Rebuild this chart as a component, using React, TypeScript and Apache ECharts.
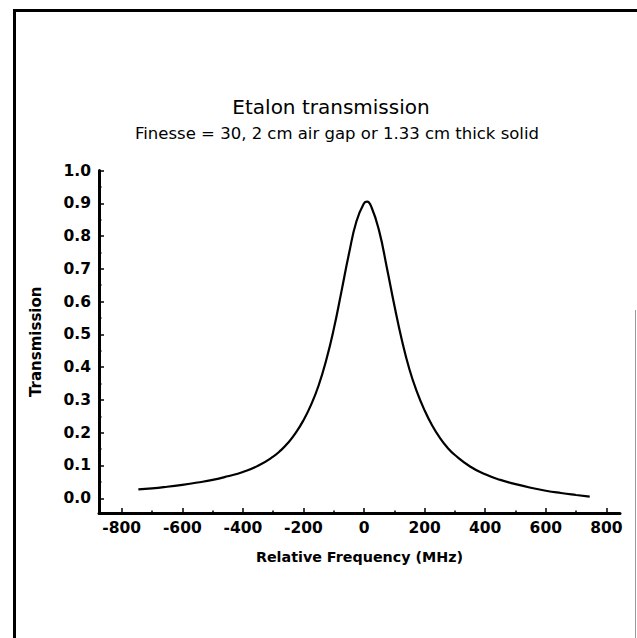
import React, { useEffect, useRef } from 'react';
import * as echarts from 'echarts';

// Relative frequency (MHz) and transmission
const frequency = [-745, -700, -650, -600, -550, -500, -450, -400, -350, -300, -275, -250, -225, -200, -175, -150, -125, -100, -75, -50, -25, 0, 10, 25, 50, 75, 100, 125, 150, 175, 200, 225, 250, 275, 300, 350, 400, 450, 500, 550, 600, 650, 700, 745];
const transmission = [0.027, 0.03, 0.035, 0.041, 0.048, 0.056, 0.067, 0.08, 0.099, 0.127, 0.146, 0.17, 0.2, 0.238, 0.285, 0.344, 0.421, 0.516, 0.629, 0.745, 0.845, 0.9, 0.905, 0.887, 0.815, 0.705, 0.589, 0.482, 0.393, 0.324, 0.268, 0.222, 0.185, 0.155, 0.132, 0.097, 0.073, 0.056, 0.043, 0.032, 0.023, 0.016, 0.01, 0.005];

const xMajorTicks = [-800, -600, -400, -200, 0, 200, 400, 600, 800];
const xMinorTicks = [-700, -500, -300, -100, 100, 300, 500, 700];
const yMajorTicks = [0, 0.1, 0.2, 0.3, 0.4, 0.5, 0.6, 0.7, 0.8, 0.9, 1.0];
const yMinorTicks = [0.05, 0.15, 0.25, 0.35, 0.45, 0.55, 0.65, 0.75, 0.85, 0.95];

const titleText = 'Etalon transmission';
const subtitleText = 'Finesse = 30, 2 cm air gap or 1.33 cm thick solid';
const xAxisName = 'Relative Frequency (MHz)';
const yAxisName = 'Transmission';

const FONT = 'DejaVu Sans';

export default function App() {
  const ref = useRef<HTMLDivElement>(null);
  useEffect(() => {
    if (!ref.current) return;
    const chart = echarts.init(ref.current, undefined, { renderer: 'svg' });
    const X_MIN = -875;
    const X_MAX = 845;
    const Y_MIN = -0.045;
    const Y_MAX = 1.0;
    const labelStyle = { color: '#000', fontFamily: FONT, fontSize: 15.5, fontWeight: 'bold' as const };
    chart.setOption({
      animation: false,
      backgroundColor: '#fff',
      grid: { left: 99, top: 170.5, width: 521, height: 342.5, outerBoundsMode: 'none' },
      graphic: [
        { type: 'line', shape: { x1: 13, y1: 10.5, x2: 637, y2: 10.5 }, style: { stroke: '#000', lineWidth: 3 } },
        { type: 'line', shape: { x1: 14.5, y1: 9, x2: 14.5, y2: 638 }, style: { stroke: '#000', lineWidth: 3 } },
        { type: 'line', shape: { x1: 635.5, y1: 310, x2: 635.5, y2: 638 }, style: { stroke: '#9a9a9a', lineWidth: 1 } },
        {
          type: 'text', x: 331, y: 97,
          style: { text: titleText, align: 'center', verticalAlign: 'top', fill: '#000', fontFamily: FONT, fontSize: 20, fontWeight: 'normal' },
        },
        {
          type: 'text', x: 337, y: 125,
          style: { text: subtitleText, align: 'center', verticalAlign: 'top', fill: '#000', fontFamily: FONT, fontSize: 16.5, fontWeight: 'normal' },
        },
      ],
      xAxis: [
        {
          type: 'value', min: X_MIN, max: X_MAX, position: 'bottom',
          name: xAxisName, nameLocation: 'middle', nameGap: 37,
          nameTextStyle: { color: '#000', fontFamily: FONT, fontSize: 14.3, fontWeight: 'bold' },
          axisLine: { show: true, onZero: false, lineStyle: { color: '#000', width: 3 } },
          axisTick: { show: true, inside: true, length: 5, customValues: xMajorTicks, lineStyle: { color: '#000', width: 1.5 } },
          axisLabel: { show: true, margin: 7, customValues: xMajorTicks, formatter: (v: number) => String(v), ...labelStyle },
          splitLine: { show: false },
        },
        {
          type: 'value', min: X_MIN, max: X_MAX, position: 'bottom',
          axisLine: { show: false, onZero: false },
          axisTick: { show: true, inside: true, length: 2.5, customValues: xMinorTicks, lineStyle: { color: '#000', width: 1.5 } },
          axisLabel: { show: false },
          splitLine: { show: false },
        },
      ],
      yAxis: [
        {
          type: 'value', min: Y_MIN, max: Y_MAX, position: 'left',
          name: yAxisName, nameLocation: 'middle', nameGap: 56,
          nameTextStyle: { color: '#000', fontFamily: FONT, fontSize: 15, fontWeight: 'bold' },
          axisLine: { show: true, onZero: false, lineStyle: { color: '#000', width: 3 } },
          axisTick: { show: true, inside: true, length: 5, customValues: yMajorTicks, lineStyle: { color: '#000', width: 1.5 } },
          axisLabel: { show: true, margin: 8, customValues: yMajorTicks, formatter: (v: number) => v.toFixed(1), ...labelStyle },
          splitLine: { show: false },
        },
        {
          type: 'value', min: Y_MIN, max: Y_MAX, position: 'left',
          axisLine: { show: false, onZero: false },
          axisTick: { show: true, inside: true, length: 2.5, customValues: yMinorTicks, lineStyle: { color: '#000', width: 1.5 } },
          axisLabel: { show: false },
          splitLine: { show: false },
        },
      ],
      series: [
        {
          type: 'line',
          xAxisIndex: 0,
          yAxisIndex: 0,
          data: frequency.map((f, i) => [f, transmission[i]]),
          showSymbol: false,
          smooth: 0.5,
          lineStyle: { color: '#000', width: 2.2 },
        },
      ],
    });
    return () => chart.dispose();
  }, []);
  return (
    <div
      ref={ref}
      style={{ position: 'fixed', left: 0, top: 0, width: 637, height: 638, background: '#fff' }}
    />
  );
}
